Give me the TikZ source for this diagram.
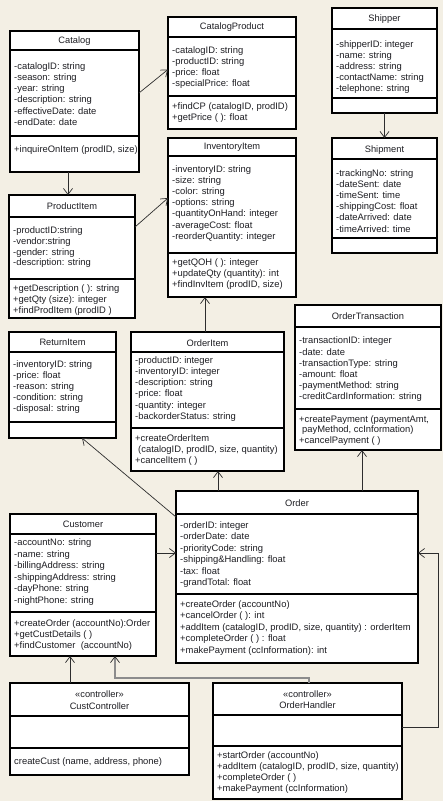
\documentclass[tikz,border=0pt]{standalone}
\usepackage{fontspec}
\setmainfont{Liberation Sans}
\usetikzlibrary{arrows.meta,calc}
\definecolor{bg}{RGB}{243,239,228}
\definecolor{ln}{RGB}{45,45,45}
\definecolor{tx}{RGB}{30,30,35}
\tikzset{
 clsbox/.style={draw=black, line width=1.2pt, fill=white, inner sep=0pt, outer sep=0pt, anchor=north west},
 clsline/.style={draw=black, line width=1.2pt},
 ttl/.style={font=\fontsize{9.3}{10}\selectfont, text=tx, inner sep=0pt, align=center},
 cmp/.style={text=tx, inner sep=0pt, align=left, anchor=north west},
 conn/.style={draw=ln, line width=0.7pt, -{Straight Barb[length=6pt,width=9pt]}},
 grayconn/.style={draw=black!45, line width=1.1pt, -{Straight Barb[length=6pt,width=9pt,color=ln,line width=0.7pt]}},
}
\newcommand\umlbox[7]{%
  \node[clsbox, minimum width={(#4)-(#2)}, minimum height={(#5)-(#3)}] (#1) at (#2,#3) {};
  \draw[clsline] (#2,#6) -- (#4,#6) (#2,#7) -- (#4,#7);
}
\newcommand\ctext[5][11.2]{%
  \node[cmp, font=\fontsize{9.4}{#1}\selectfont] (#2) at (#3,#4-8) {\rule{0pt}{8pt}#5};
}
\begin{document}
\begin{tikzpicture}[x=1pt,y=-1pt]
\fill[bg] (0,0) rectangle (443,801);
\useasboundingbox (0,0) rectangle (443,801);

% Catalog
\umlbox{catalog}{10}{31}{139}{172}{50}{136}
\node[ttl] (catalog-t) at (74.5,41) {Catalog};
\ctext{catalog-a}{14}{69}{-catalogID: string\\-season: string\\-year: string\\-description: string\\-effectiveDate: date\\-endDate: date}
\ctext{catalog-o}{14}{152}{+inquireOnItem (prodID, size)}

% CatalogProduct
\umlbox{catprod}{168}{17}{296}{129}{37}{96}
\node[ttl] (catprod-t) at (232,27.5) {CatalogProduct};
\ctext[11]{catprod-a}{172}{53.5}{-catalogID: string\\-productID: string\\-price: float\\-specialPrice: float}
\ctext[11]{catprod-o}{172}{109.5}{+findCP (catalogID, prodID)\\+getPrice ( ): float}

% Shipper
\umlbox{shipper}{332}{8}{437}{113}{29}{98}
\node[ttl] (shipper-t) at (384.5,19) {Shipper};
\ctext[11]{shipper-a}{336}{47.5}{-shipperID: integer\\-name: string\\-address: string\\-contactName: string\\-telephone: string}

% InventoryItem
\umlbox{invitem}{168}{138}{296}{297}{156}{253}
\node[ttl] (invitem-t) at (232,147.5) {InventoryItem};
\ctext[11.1]{invitem-a}{172}{172.3}{-inventoryID: string\\-size: string\\-color: string\\-options: string\\-quantityOnHand: integer\\-averageCost: float\\-reorderQuantity: integer}
\ctext[10.8]{invitem-o}{172}{265.7}{+getQOH ( ): integer\\+updateQty (quantity): int\\+findInvItem (prodID, size)}

% Shipment
\umlbox{shipment}{332}{138}{437}{253}{159}{238}
\node[ttl] (shipment-t) at (384.5,150) {Shipment};
\ctext[11.1]{shipment-a}{336}{176.3}{-trackingNo: string\\-dateSent: date\\-timeSent: time\\-shippingCost: float\\-dateArrived: date\\-timeArrived: time}

% ProductItem
\umlbox{proditem}{9}{195}{135}{318}{217}{279}
\node[ttl] (proditem-t) at (72,206.5) {ProductItem};
\ctext[10.9]{proditem-a}{13}{233}{-productID:string\\-vendor:string\\-gender: string\\-description: string}
\ctext[10.9]{proditem-o}{13}{291.3}{+getDescription ( ): string\\+getQty (size): integer\\+findProdItem (prodID )}

% ReturnItem
\umlbox{retitem}{9}{332}{116}{438}{352}{422}
\node[ttl] (retitem-t) at (62.5,342.5) {ReturnItem};
\ctext[11.1]{retitem-a}{13}{367.3}{-inventoryID: string\\-price: float\\-reason: string\\-condition: string\\-disposal: string}

% OrderItem
\umlbox{orditem}{131}{332}{284}{471}{352}{428}
\node[ttl] (orditem-t) at (207.5,343) {OrderItem};
\ctext[11.2]{orditem-a}{135}{363}{-productID: integer\\-inventoryID: integer\\-description: string\\-price: float\\-quantity: integer\\-backorderStatus: string}
\ctext[10.8]{orditem-o}{135}{441.3}{+createOrderItem\\\hspace*{3pt}(catalogID, prodID, size, quantity)\\+cancelItem ( )}

% OrderTransaction
\umlbox{ordtrans}{295}{305}{441}{450}{327}{409}
\node[ttl] (ordtrans-t) at (368,316.5) {OrderTransaction};
\ctext[11.2]{ordtrans-a}{299}{343.7}{-transactionID: integer\\-date: date\\-transactionType: string\\-amount: float\\-paymentMethod: string\\-creditCardInformation: string}
\ctext[10.7]{ordtrans-o}{299}{422}{+createPayment (paymentAmt,\\\hspace*{3pt}payMethod, ccInformation)\\+cancelPayment ( )}

% Order
\umlbox{order}{176}{491}{418}{663}{514}{594}
\node[ttl] (order-t) at (297,503) {Order};
\ctext[11.5]{order-a}{180}{528}{-orderID: integer\\-orderDate: date\\-priorityCode: string\\-shipping\&Handling: float\\-tax: float\\-grandTotal: float}
\ctext[11.5]{order-o}{180}{607}{+createOrder (accountNo)\\+cancelOrder ( ): int\\+addItem (catalogID, prodID, size, quantity) : orderItem\\+completeOrder ( ) : float\\+makePayment (ccInformation): int}

% Customer
\umlbox{customer}{10}{514}{156}{656}{534}{612}
\node[ttl] (customer-t) at (83,524.5) {Customer};
\ctext[11.5]{customer-a}{14}{545.7}{-accountNo: string\\-name: string\\-billingAddress: string\\-shippingAddress: string\\-dayPhone: string\\-nightPhone: string}
\ctext[11.2]{customer-o}{14}{626.3}{+createOrder (accountNo):Order\\+getCustDetails ( )\\+findCustomer \ (accountNo)}

% CustController
\umlbox{custctl}{10}{683}{189}{775}{716}{748}
\node[ttl, font=\fontsize{9.3}{11.5}\selectfont] (custctl-t) at (99.5,700) {«controller»\\CustController};
\ctext{custctl-o}{14}{764.7}{createCust (name, address, phone)}

% OrderHandler
\umlbox{ordhandler}{213}{683}{402}{799}{715}{746}
\node[ttl, font=\fontsize{9.3}{11}\selectfont] (ordhandler-t) at (307.5,700) {«controller»\\OrderHandler};
\ctext[11]{ordhandler-o}{217}{758}{+startOrder (accountNo)\\+addItem (catalogID, prodID, size, quantity)\\+completeOrder ( )\\+makePayment (ccInformation)}

% Connectors
\draw[conn] ($(catalog.east)+(0,-8.5)$) -- ($(catprod.west)+(0,-3.5)$);
\coordinate (c1) at ($(catalog.south)+(-6.5,0)$);
\draw[conn] (c1) -- (c1 |- proditem.north);
\draw[conn] ($(proditem.east)+(0,-29.5)$) -- ($(invitem.west)+(0,-19.5)$);
\coordinate (c2) at ($(orditem.north)+(-2.5,0)$);
\draw[conn] (c2) -- (c2 |- invitem.south);
\draw[conn] (shipper.south) -- (shipment.north);
\coordinate (c3) at ($(order.north)+(-79,0)$);
\draw[conn] (c3) -- (c3 |- orditem.south);
\coordinate (c4) at ($(order.north)+(65,0)$);
\draw[conn] (c4) -- (c4 |- ordtrans.south);
\draw[conn] ($(order.west)+(0,-60)$) -- ($(retitem.south)+(19.5,0)$);
\coordinate (c5) at ($(customer.east)+(0,-32)$);
\draw[conn] (c5) -- (c5 -| order.west);
\coordinate (c6) at ($(ordhandler.east)+(0,-14)$);
\coordinate (c7) at (438,553);
\draw[conn] (c6) -- (c6 -| c7) -- (c7) -- (c7 -| order.east);
\coordinate (c8) at ($(custctl.north)+(-29.5,0)$);
\draw[conn] (c8) -- (c8 |- customer.south);
\coordinate (c9) at ($(ordhandler.north)+(1.5,0)$);
\coordinate (c10) at (115,678);
\draw[grayconn] (c9) -- (c9 |- c10) -- (c10) -- (c10 |- customer.south);
\end{tikzpicture}
\end{document}
